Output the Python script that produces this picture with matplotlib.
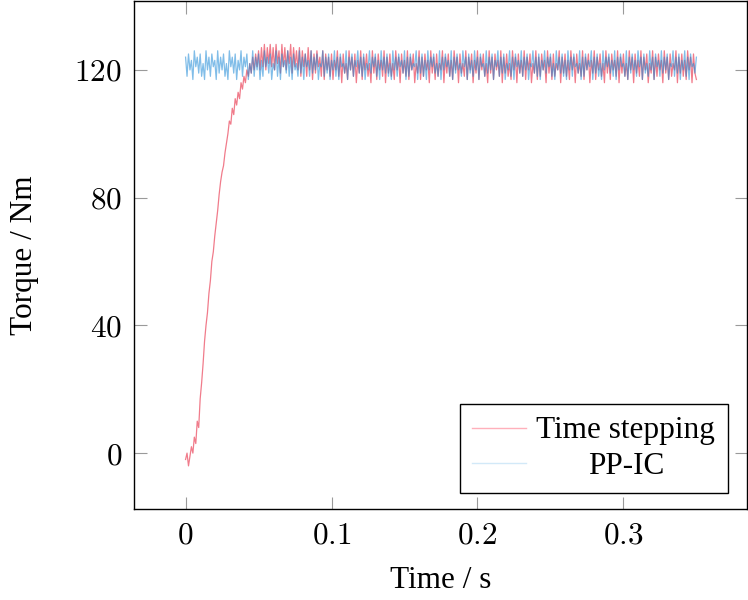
import numpy as np
import matplotlib
matplotlib.use("Agg")
import matplotlib.pyplot as plt
from matplotlib.ticker import FuncFormatter

time_step_s = 0.001

torque_time_stepping = [
    -2, 0, -4, -1, 2, 0, 5, 3, 10, 8, 17, 22, 28, 35, 40, 44, 50, 54, 60, 63,
    68, 72, 76, 81, 85, 88, 90, 94, 97, 100, 104, 103, 108, 106, 111, 109, 113, 111, 116, 114,
    118, 116, 120, 118, 122, 119, 124, 120, 125, 121, 126, 120, 127, 121, 128, 120, 127, 122, 128, 121,
    127, 120, 128, 122, 126, 119, 128, 121, 127, 120, 126, 122, 128, 119, 127, 121, 126, 120, 127, 118,
    126, 121, 125, 118, 127, 120, 126, 117, 125, 119, 126, 121, 124, 118, 126, 117, 125, 120, 124, 118,
    125, 117, 123, 120, 126, 118, 124, 116, 125, 119, 122, 117, 126, 120, 124, 118, 125, 116, 123, 119,
    126, 117, 124, 120, 125, 118, 122, 116, 126, 119, 124, 117, 125, 120, 123, 118, 126, 116, 124, 119,
    125, 118, 122, 117, 126, 120, 124, 116, 125, 119, 123, 118, 126, 117, 124, 120, 125, 116, 122, 119,
    126, 117, 124, 118, 125, 120, 123, 116, 126, 119, 124, 117, 125, 118, 122, 120, 126, 116, 124, 119,
    125, 118, 123, 117, 126, 120, 124, 116, 125, 119, 122, 118, 126, 117, 124, 120, 125, 116, 123, 119,
    126, 117, 124, 120, 125, 118, 122, 116, 126, 119, 124, 117, 125, 120, 123, 118, 126, 116, 124, 119,
    125, 118, 122, 117, 126, 120, 124, 116, 125, 119, 123, 118, 126, 117, 124, 120, 125, 116, 122, 119,
    126, 117, 124, 118, 125, 120, 123, 116, 126, 119, 124, 117, 125, 118, 122, 120, 126, 116, 124, 119,
    125, 118, 123, 117, 126, 120, 124, 116, 125, 119, 122, 118, 126, 117, 124, 120, 125, 116, 123, 119,
    126, 117, 124, 120, 125, 118, 122, 116, 126, 119, 124, 117, 125, 120, 123, 118, 126, 116, 124, 119,
    125, 118, 122, 117, 126, 120, 124, 116, 125, 119, 123, 118, 126, 117, 124, 120, 125, 116, 122, 119,
    126, 117, 124, 118, 125, 120, 123, 116, 126, 119, 124, 117, 125, 118, 122, 120, 126, 116, 124, 119,
    125, 118, 123, 117, 126, 120, 124, 116, 125, 119, 117,
]

torque_pp_ic = [
    124, 118, 125, 120, 123, 117, 126, 121, 124, 119, 125, 118, 122, 117, 126, 120, 124, 118, 125, 121,
    123, 117, 126, 119, 124, 120, 125, 118, 122, 117, 126, 121, 124, 119, 125, 117, 123, 120, 126, 118,
    124, 121, 125, 117, 122, 119, 126, 118, 124, 120, 125, 117, 123, 118, 126, 121, 124, 119, 125, 117,
    122, 120, 126, 118, 124, 117, 125, 121, 123, 119, 126, 118, 124, 117, 125, 120, 122, 118, 126, 119,
    124, 117, 125, 121, 123, 118, 126, 119, 124, 120, 125, 117, 122, 121, 126, 118, 124, 119, 125, 117,
    123, 120, 126, 118, 124, 117, 125, 121, 122, 119, 126, 117, 124, 120, 125, 118, 123, 121, 126, 119,
    124, 118, 125, 117, 122, 120, 126, 119, 124, 121, 125, 118, 123, 117, 126, 120, 124, 119, 125, 118,
    122, 117, 126, 120, 124, 118, 125, 121, 123, 119, 126, 117, 124, 118, 125, 120, 122, 121, 126, 117,
    124, 119, 125, 118, 123, 117, 126, 120, 124, 121, 125, 119, 122, 118, 126, 117, 124, 120, 125, 121,
    123, 118, 126, 117, 124, 119, 125, 120, 122, 118, 126, 121, 124, 117, 125, 119, 123, 118, 126, 120,
    124, 117, 125, 121, 122, 118, 126, 119, 124, 120, 125, 117, 123, 121, 126, 118, 124, 119, 125, 117,
    122, 120, 126, 118, 124, 117, 125, 121, 123, 119, 126, 118, 124, 120, 125, 117, 122, 121, 126, 119,
    124, 118, 125, 117, 123, 120, 126, 119, 124, 121, 125, 118, 122, 117, 126, 120, 124, 119, 125, 118,
    123, 117, 126, 120, 124, 118, 125, 121, 122, 119, 126, 117, 124, 118, 125, 120, 123, 121, 126, 117,
    124, 119, 125, 118, 122, 117, 126, 120, 124, 121, 125, 119, 123, 118, 126, 117, 124, 120, 125, 121,
    122, 118, 126, 117, 124, 119, 125, 120, 123, 118, 126, 121, 124, 117, 125, 119, 122, 118, 126, 120,
    124, 117, 125, 121, 123, 118, 126, 119, 124, 120, 125, 117, 122, 121, 126, 118, 124, 119, 125, 117,
    123, 120, 126, 118, 124, 117, 125, 121, 122, 119, 124,
]

series_labels = ["Time stepping", "PP-IC"]
x_ticks = [0, 0.1, 0.2, 0.3]
y_ticks = [0, 40, 80, 120]

t_ts = np.arange(len(torque_time_stepping)) * time_step_s
t_pp = np.arange(len(torque_pp_ic)) * time_step_s

# --- style ---
plt.rcParams["font.family"] = "serif"
plt.rcParams["font.serif"] = ["Liberation Serif", "DejaVu Serif"]
plt.rcParams["mathtext.fontset"] = "cm"
fs = 22.5

fig = plt.figure(figsize=(7.48, 6.0), dpi=100)
ax = fig.add_axes([0.1798, 0.1517, 0.8195, 0.8467])

ax.plot(t_ts, torque_time_stepping, color="#e5102c", lw=0.9, alpha=0.55,
        label=series_labels[0])
ax.plot(t_pp, torque_pp_ic, color="#1a88d6", lw=0.9, alpha=0.55,
        label=series_labels[1])

ax.set_xlim(-0.035, 0.385)
ax.set_ylim(-17.5, 141.6)
ax.set_xticks(x_ticks)
ax.set_yticks(y_ticks)
ax.xaxis.set_major_formatter(FuncFormatter(lambda v, p: f"${v:g}$"))
ax.yaxis.set_major_formatter(FuncFormatter(lambda v, p: f"${v:g}$"))
ax.tick_params(direction="in", length=9, width=0.8, color="#9a9a9a",
               top=True, right=True, labelsize=fs, pad=9)
for sp in ax.spines.values():
    sp.set_linewidth(1.0)
    sp.set_color("black")

ax.set_xlabel("Time / s", fontsize=fs)
ax.set_ylabel("Torque / Nm", fontsize=fs)
ax.xaxis.set_label_coords(0.5, -0.112)
ax.yaxis.set_label_coords(-0.155, 0.5)

leg = ax.legend(loc="lower right", bbox_to_anchor=(0.968, 0.031),
                borderaxespad=0, fontsize=fs, fancybox=False,
                edgecolor="black", framealpha=1, handlelength=1.7,
                handletextpad=0.35, labelspacing=0.2, borderpad=0.4)
leg.get_frame().set_linewidth(1.0)
for line, c in zip(leg.get_lines(), ["#ffb0bb", "#d2e9f8"]):
    line.set_color(c)
    line.set_alpha(1)
    line.set_linewidth(1.0)

# centre the shorter label under the longer one, as in the reference
fig.canvas.draw()
texts = leg.get_texts()
w0 = texts[0].get_window_extent().width
w1 = texts[1].get_window_extent().width
texts[1].set_x((w0 - w1) / 2)

fig.savefig("out.png", dpi=100)
